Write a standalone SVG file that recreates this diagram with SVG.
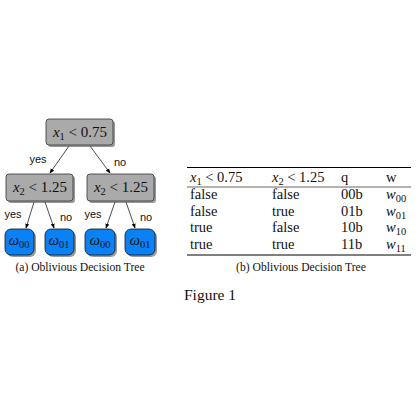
<svg xmlns="http://www.w3.org/2000/svg" width="420" height="420" viewBox="0 0 420 420">
<defs>
<marker id="ah" viewBox="0 0 8 8" refX="7" refY="4" markerWidth="5" markerHeight="5" orient="auto" markerUnits="userSpaceOnUse">
<path d="M0,0.8 L8,4 L0,7.2 Z" fill="#000"/>
</marker>
</defs>
<style>
.g{fill:#aaaaaa;stroke:#333;stroke-width:0.8}
.b{fill:#0a82f5;stroke:#111;stroke-width:0.8}
.sh{fill:#555;opacity:0.6}
.t{font-family:"Liberation Serif","DejaVu Serif",serif;font-size:15px;fill:#111}
.m{font-style:italic}
.sub{font-size:10.5px}
.l{font-family:"Liberation Sans","DejaVu Sans",sans-serif;font-size:11px;fill:#111}
.c{font-family:"Liberation Serif","DejaVu Serif",serif;font-size:11.6px;fill:#111}
.e{stroke:#000;stroke-width:0.7;fill:none;marker-end:url(#ah)}
.r{stroke:#000;fill:none}
</style>
<g id="connectors">
<line class="e" x1="69" y1="146" x2="50" y2="173"/>
<line class="e" x1="90" y1="146" x2="110" y2="173"/>
<line class="e" x1="34" y1="202" x2="26" y2="228"/>
<line class="e" x1="45" y1="202" x2="54" y2="228"/>
<line class="e" x1="115" y1="202" x2="106" y2="228"/>
<line class="e" x1="126" y1="202" x2="135" y2="228"/>
<text class="l" x="38" y="163" text-anchor="middle">yes</text>
<text class="l" x="120" y="166" text-anchor="middle">no</text>
<text class="l" x="13" y="218" text-anchor="middle">yes</text>
<text class="l" x="66" y="221" text-anchor="middle">no</text>
<text class="l" x="93" y="218" text-anchor="middle">yes</text>
<text class="l" x="146" y="221" text-anchor="middle">no</text>
</g>
<g id="root">
<rect class="sh" x="48" y="121" width="67" height="26" rx="3"/>
<rect class="g" x="46" y="119" width="67" height="26" rx="3"/>
<text class="t" x="80" y="137" text-anchor="middle"><tspan class="m">x</tspan><tspan class="sub" dy="3">1</tspan><tspan dy="-3"> &lt; 0.75</tspan></text>
</g>
<g id="left">
<rect class="sh" x="8" y="176" width="67" height="27" rx="3"/>
<rect class="g" x="6" y="174" width="67" height="27" rx="3"/>
<text class="t" x="40" y="192" text-anchor="middle"><tspan class="m">x</tspan><tspan class="sub" dy="3">2</tspan><tspan dy="-3"> &lt; 1.25</tspan></text>
</g>
<g id="right">
<rect class="sh" x="89" y="176" width="67" height="27" rx="3"/>
<rect class="g" x="87" y="174" width="67" height="27" rx="3"/>
<text class="t" x="121" y="192" text-anchor="middle"><tspan class="m">x</tspan><tspan class="sub" dy="3">2</tspan><tspan dy="-3"> &lt; 1.25</tspan></text>
</g>
<g id="leaf1">
<rect class="sh" x="7" y="231" width="29" height="26" rx="6"/>
<rect class="b" x="5" y="229" width="29" height="26" rx="6"/>
<text class="t" x="19" y="245" text-anchor="middle"><tspan class="m">ω</tspan><tspan class="sub" dy="3">00</tspan></text>
</g>
<g id="leaf2">
<rect class="sh" x="47" y="231" width="29" height="26" rx="6"/>
<rect class="b" x="45" y="229" width="29" height="26" rx="6"/>
<text class="t" x="59" y="245" text-anchor="middle"><tspan class="m">ω</tspan><tspan class="sub" dy="3">01</tspan></text>
</g>
<g id="leaf3">
<rect class="sh" x="87" y="231" width="30" height="26" rx="6"/>
<rect class="b" x="85" y="229" width="30" height="26" rx="6"/>
<text class="t" x="100" y="245" text-anchor="middle"><tspan class="m">ω</tspan><tspan class="sub" dy="3">00</tspan></text>
</g>
<g id="leaf4">
<rect class="sh" x="127" y="231" width="30" height="26" rx="6"/>
<rect class="b" x="125" y="229" width="30" height="26" rx="6"/>
<text class="t" x="140" y="245" text-anchor="middle"><tspan class="m">ω</tspan><tspan class="sub" dy="3">01</tspan></text>
</g>
<text class="c" x="80" y="271" text-anchor="middle">(a) Oblivious Decision Tree</text>
<g id="table">
<line class="r" x1="187" y1="167.5" x2="411" y2="167.5" stroke-width="1"/>
<line class="r" x1="187" y1="187" x2="411" y2="187" stroke-width="0.6"/>
<line class="r" x1="187" y1="255" x2="411" y2="255" stroke-width="1"/>
<g class="t" style="font-size:14.5px">
<text x="190" y="182"><tspan class="m">x</tspan><tspan class="sub" dy="3">1</tspan><tspan dy="-3"> &lt; 0.75</tspan></text>
<text x="272" y="182"><tspan class="m">x</tspan><tspan class="sub" dy="3">2</tspan><tspan dy="-3"> &lt; 1.25</tspan></text>
<text x="341" y="182">q</text>
<text x="386" y="182">w</text>
<text x="190" y="199">false</text><text x="272" y="199">false</text><text x="341" y="199">00b</text>
<text x="386" y="199"><tspan class="m">w</tspan><tspan class="sub" dy="3">00</tspan></text>
<text x="190" y="215.5">false</text><text x="272" y="215.5">true</text><text x="341" y="215.5">01b</text>
<text x="386" y="215.5"><tspan class="m">w</tspan><tspan class="sub" dy="3">01</tspan></text>
<text x="190" y="232">true</text><text x="272" y="232">false</text><text x="341" y="232">10b</text>
<text x="386" y="232"><tspan class="m">w</tspan><tspan class="sub" dy="3">10</tspan></text>
<text x="190" y="248.5">true</text><text x="272" y="248.5">true</text><text x="341" y="248.5">11b</text>
<text x="386" y="248.5"><tspan class="m">w</tspan><tspan class="sub" dy="3">11</tspan></text>
</g>
<text class="c" x="301" y="271" text-anchor="middle">(b) Oblivious Decision Tree</text>
</g>
<text class="t" x="210" y="300" text-anchor="middle" style="font-size:15.5px">Figure 1</text>
</svg>
